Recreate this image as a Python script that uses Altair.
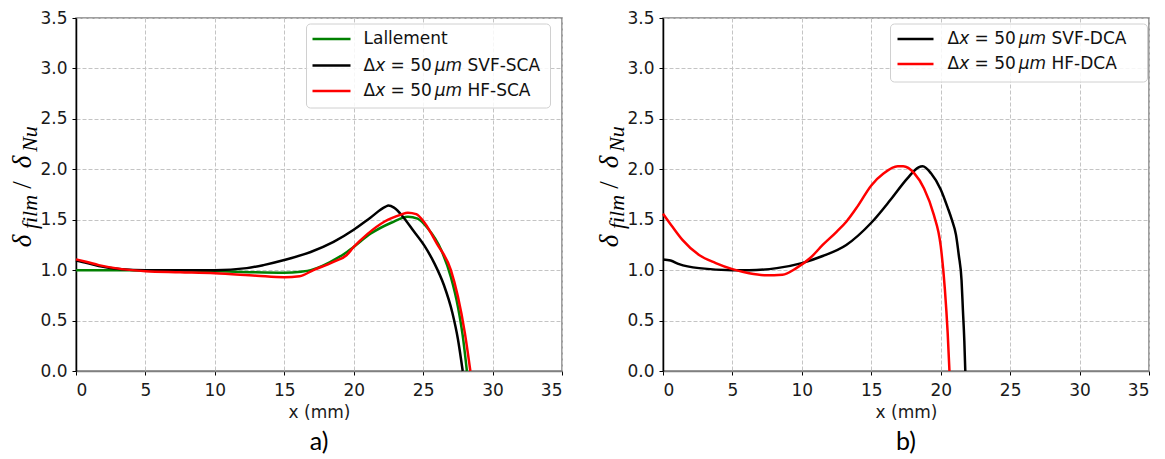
import altair as alt
import pandas as pd

# ---------------- Panel a) ----------------
a_names = ["Lallement", "Δx = 50 μm SVF-SCA", "Δx = 50 μm HF-SCA"]
a_colors = ["#008000", "#000000", "#ff0000"]

a_lal_x = [0, 2, 5, 7.5, 10, 12.5, 15, 16.2, 16.9, 17.7, 18.55, 19.3, 20, 21.2, 22.7, 23.9, 24.6, 25.3, 26.3, 27.0, 27.5, 27.85, 28.15]
a_lal_y = [1.00, 1.00, 1.0, 1.0, 0.99, 0.98, 0.974, 0.985, 1.0, 1.04, 1.1, 1.16, 1.23, 1.36, 1.47, 1.53, 1.51, 1.42, 1.2, 0.93, 0.64, 0.35, 0.0]

a_svf_x = [0, 0.8, 1.64, 3.3, 5, 7.5, 10, 12.3, 13.5, 15, 16.9, 18.55, 20, 21.2, 22.3, 22.5, 22.9, 23.6, 24.3, 25.1, 25.8, 26.5, 27.1, 27.5, 27.85]
a_svf_y = [1.095, 1.07, 1.04, 1.01, 1.0, 1.0, 1.0, 1.02, 1.05, 1.10, 1.18, 1.28, 1.40, 1.52, 1.63, 1.64, 1.62, 1.52, 1.39, 1.24, 1.07, 0.85, 0.58, 0.32, 0.0]

a_hf_x = [0, 0.8, 1.64, 3.3, 5, 7.5, 10, 13, 15, 16.1, 17.1, 18.5, 19.5, 20, 21, 22.2, 23.4, 23.9, 24.5, 25.1, 26, 27, 27.5, 28, 28.4]
a_hf_y = [1.107, 1.08, 1.05, 1.01, 0.99, 0.98, 0.97, 0.945, 0.93, 0.94, 1.0, 1.08, 1.15, 1.23, 1.36, 1.48, 1.55, 1.57, 1.555, 1.47, 1.26, 1.0, 0.74, 0.38, 0.0]

# ---------------- Panel b) ----------------
b_names = ["Δx = 50 μm SVF-DCA", "Δx = 50 μm HF-DCA"]
b_colors = ["#000000", "#ff0000"]

b_svf_x = [0, 0.55, 1.16, 2.6, 5, 6.2, 8.2, 10, 11.5, 13.2, 15, 16.4, 17.6, 18.4, 18.7, 19.3, 20, 20.5, 20.8, 21.1, 21.3, 21.5, 21.6, 21.7, 21.77]
b_svf_y = [1.105, 1.095, 1.06, 1.02, 1.0, 1.0, 1.02, 1.07, 1.14, 1.25, 1.47, 1.70, 1.91, 2.02, 2.03, 1.96, 1.80, 1.62, 1.50, 1.35, 1.15, 0.9, 0.6, 0.3, 0.0]

b_hf_x = [0, 0.68, 1.4, 2.6, 3.8, 5, 6.2, 7.4, 8.6, 9.6, 10.6, 11.5, 12.5, 13.2, 14, 15, 15.9, 16.9, 17.3, 18.1, 18.8, 19.5, 20, 20.3, 20.5, 20.63]
b_hf_y = [1.56, 1.43, 1.30, 1.15, 1.07, 1.01, 0.97, 0.95, 0.955, 1.02, 1.12, 1.25, 1.38, 1.48, 1.63, 1.84, 1.96, 2.03, 2.03, 1.96, 1.81, 1.55, 1.24, 0.81, 0.38, 0.0]

x_ticks = [0, 5, 10, 15, 20, 25, 30, 35]
y_ticks = [0.0, 0.5, 1.0, 1.5, 2.0, 2.5, 3.0, 3.5]

W, H = 486, 353
TICK_FONT = "DejaVu Sans"
LEG_FS = 17

# DejaVu Sans advance widths (em)
ADV = {" ": 0.318, "Δ": 0.684, "x": 0.592, "=": 0.838, "0": 0.636, "5": 0.636,
       "μ": 0.636, "m": 0.974, "S": 0.635, "V": 0.684, "F": 0.575, "-": 0.361,
       "C": 0.698, "A": 0.684, "H": 0.752, "D": 0.770}


def tw(s):
    return sum(ADV.get(c, 0.6) for c in s) * LEG_FS


def label_segments(name):
    """Split a legend label into (text, italic, x-offset) pieces (mathtext look)."""
    if not name.startswith("Δx"):
        return [(name, False, 0.0)]
    tail = name.split("μm ")[1]
    segs = []
    x = 0.0
    for t, it, gap in [("Δ", False, 0.0), ("x", True, 0.0), ("=", False, tw(" ")),
                       ("50", False, tw(" ")), ("μm", True, 0.166 * LEG_FS), (tail, False, tw(" "))]:
        x += gap
        segs.append((t, it, x))
        x += tw(t)
    return segs


def make_df(series):
    rows = []
    for k, (name, xs, ys) in enumerate(series):
        for i, (x, y) in enumerate(zip(xs, ys)):
            rows.append({"series": name, "x": x, "y": y, "k": k, "i": i})
    return pd.DataFrame(rows)


def ytitle_layers():
    one = pd.DataFrame({"a": [0]})
    pieces = [
        # text, x(baseline), y(center), size, italic
        ("δ", -45, 223, 27, True),
        ("film", -39, 194, 22, True),
        ("/", -45, 167, 27, False),
        ("δ", -45, 144, 27, True),
        ("Nu", -39, 121, 22, True),
    ]
    out = []
    for t, x, y, s, it in pieces:
        out.append(
            alt.Chart(one).mark_text(
                text=t, angle=270, font="Liberation Serif",
                fontStyle="italic" if it else "normal",
                fontSize=s, align="center", baseline="alphabetic", color="#000000",
            ).encode(x=alt.value(x), y=alt.value(y))
        )
    return out


def legend_layers(names, colors, box, rows, line_x, label_x):
    x0, y0, x1, y1 = box
    one = pd.DataFrame({"a": [0]})
    layers = [
        alt.Chart(one).mark_rect(fill="white", fillOpacity=0.85, stroke="#d0d0d0",
                                 strokeWidth=1, cornerRadius=4).encode(
            x=alt.value(x0), x2=alt.value(x1), y=alt.value(y0), y2=alt.value(y1))
    ]
    cscale = alt.Scale(domain=names, range=colors)
    for name, ry in zip(names, rows):
        d = pd.DataFrame({"series": [name]})
        layers.append(
            alt.Chart(d).mark_rule(strokeWidth=2.5).encode(
                x=alt.value(line_x[0]), x2=alt.value(line_x[1]), y=alt.value(ry),
                color=alt.Color("series:N", scale=cscale, legend=None))
        )
        for t, it, dx in label_segments(name):
            layers.append(
                alt.Chart(one).mark_text(
                    text=t, font=TICK_FONT, fontSize=LEG_FS, align="left", baseline="middle",
                    fontStyle="italic" if it else "normal", color="#111111",
                ).encode(x=alt.value(label_x + dx), y=alt.value(ry))
            )
    return layers


def panel(series, names, colors, legend_args, title):
    df = make_df(series)
    lines = alt.Chart(df).mark_line(strokeWidth=2.5, interpolate="monotone").encode(
        x=alt.X("x:Q", scale=alt.Scale(domain=[0, 35], nice=False, zero=False),
                axis=alt.Axis(values=x_ticks, title="x (mm)", format="d")),
        y=alt.Y("y:Q", scale=alt.Scale(domain=[0, 3.5], nice=False),
                axis=alt.Axis(values=y_ticks, format=".1f", title=None)),
        color=alt.Color("series:N", scale=alt.Scale(domain=names, range=colors), legend=None),
        detail="k:N",
        order="i:Q",
    )
    return alt.layer(lines, *ytitle_layers(), *legend_layers(names, colors, **legend_args)).properties(
        width=W, height=H,
        title=alt.TitleParams(title, orient="bottom", font="Lato", fontSize=25,
                              fontWeight="normal", color="#000000", anchor="middle",
                              frame="group", offset=10),
    )


pa = panel([(a_names[0], a_lal_x, a_lal_y), (a_names[1], a_svf_x, a_svf_y), (a_names[2], a_hf_x, a_hf_y)],
           a_names, a_colors,
           dict(box=(230.5, 6, 474.5, 90), rows=[21, 47.5, 73], line_x=(236.5, 274.5), label_x=287.5),
           "a)")
pb = panel([(b_names[0], b_svf_x, b_svf_y), (b_names[1], b_hf_x, b_hf_y)],
           b_names, b_colors,
           dict(box=(227.5, 6, 484.5, 64), rows=[21, 46], line_x=(234.5, 270.5), label_x=284.5),
           "b)")

chart = alt.hconcat(pa, pb, spacing=31).resolve_scale(color="independent").properties(
    padding={"left": 0, "top": 0, "right": 5, "bottom": 0},
    background="white",
).configure_view(stroke="#808080", strokeWidth=1.5).configure_axis(
    labelFont=TICK_FONT, labelFontSize=17, labelColor="#1a1a1a",
    titleFont=TICK_FONT, titleFontSize=17, titleFontWeight="normal", titleColor="#1a1a1a",
    gridColor="#c4c4c4", gridDash=[4, 2], gridWidth=1,
    tickColor="#000000", tickSize=4, tickWidth=1, labelPadding=5,
    domainColor="#808080", domainWidth=1.5,
).configure_axisY(domainColor="#000000", domainWidth=1.5).configure_axisX(titlePadding=6, labelPadding=7)

chart.save("out.html", embed_options={"renderer": "svg", "actions": False})
